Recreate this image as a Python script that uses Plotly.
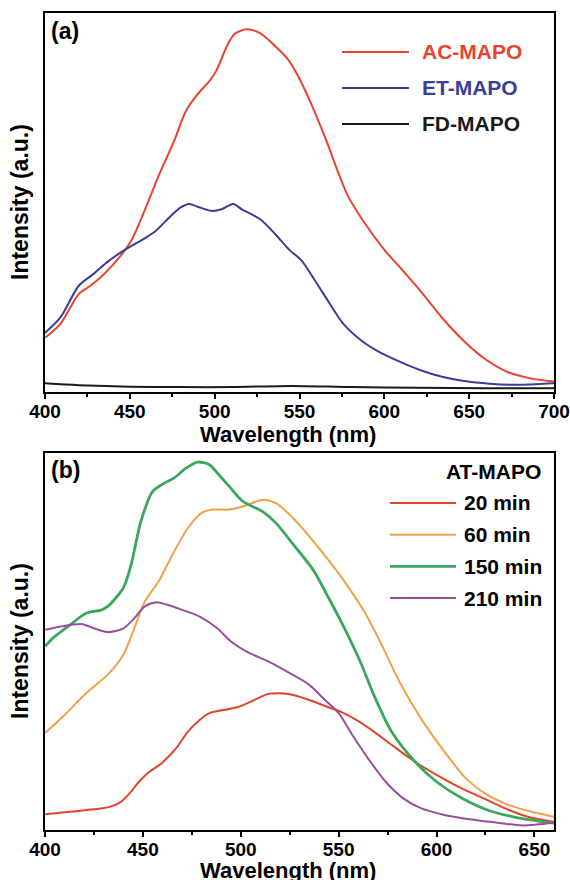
import plotly.graph_objects as go

W, H = 570, 880

# ---------------- Panel (a) data ----------------
wl_ac = [400, 409, 420, 427, 437, 450, 459, 467, 476, 483, 490, 497, 501, 508, 512, 519,
         527, 536, 543, 549, 557, 566, 572, 578, 587, 600, 609, 621, 634, 647, 660, 673, 686, 700]
ac_mapo = [14.3, 17.9, 25.9, 28.1, 32.1, 39.3, 48.2, 57.1, 66.1, 74.1, 78.6, 82.1, 84.8, 92.0, 94.6, 95.7,
           94.6, 91.1, 87.9, 83.5, 75.9, 66.1, 58.9, 52.2, 45.5, 37.5, 33.0, 26.8, 19.6, 13.4, 8.5, 5.2, 3.6, 2.8]

wl_et = [400, 409, 420, 429, 437, 447, 459, 465, 474, 480, 485, 490, 498, 504, 511, 516,
         527, 536, 544, 551, 559, 568, 576, 587, 598, 609, 621, 634, 647, 662, 677, 700]
et_mapo = [15.6, 19.6, 28.1, 31.3, 34.4, 37.5, 40.6, 42.4, 46.4, 48.7, 49.6, 48.9, 47.8, 48.2, 49.6, 48.2,
           45.5, 41.5, 37.5, 34.8, 29.5, 23.2, 17.9, 13.4, 10.3, 8.0, 5.8, 4.0, 2.9, 2.2, 1.9, 2.3]

wl_fd = [400, 420, 450, 480, 510, 545, 580, 620, 660, 700]
fd_mapo = [2.3, 1.8, 1.4, 1.3, 1.3, 1.6, 1.3, 1.1, 1.0, 1.0]

# ---------------- Panel (b) data ----------------
wl_20 = [400, 414, 425, 432, 438, 443, 448, 453, 460, 467, 473, 479, 484, 492, 499, 507, 514, 519,
         525, 535, 544, 551, 559, 568, 577, 589, 600, 611, 624, 637, 648, 660]
at_20 = [4.2, 4.9, 5.5, 6.0, 7.2, 9.6, 12.8, 15.3, 17.9, 21.7, 26.1, 29.2, 31.0, 31.9, 32.7, 34.5, 36.1, 36.3,
         36.0, 34.5, 32.7, 31.4, 29.2, 26.1, 22.6, 18.1, 14.6, 11.5, 8.4, 5.3, 3.3, 2.2]

wl_60 = [400, 410, 421, 432, 440, 445, 451, 458, 466, 473, 480, 486, 494, 501, 509, 512, 518,
         525, 535, 544, 553, 563, 572, 581, 592, 604, 615, 626, 637, 648, 660]
at_60 = [25.7, 30.5, 36.3, 41.2, 46.5, 52.7, 60.6, 65.9, 73.9, 80.1, 84.1, 85.0, 85.0, 85.8, 87.3, 87.6, 86.7,
         83.6, 77.9, 72.1, 65.9, 58.0, 49.1, 39.4, 29.6, 20.8, 13.7, 9.3, 6.6, 4.9, 3.5]

wl_150 = [400, 404, 414, 421, 429, 432, 440, 444, 449, 455, 461, 466, 472, 478, 484, 488, 494, 501,
          511, 518, 527, 537, 544, 553, 561, 568, 577, 589, 600, 613, 626, 641, 660]
at_150 = [48.7, 50.9, 54.9, 57.5, 58.4, 59.3, 64.2, 70.4, 81.9, 89.8, 92.0, 93.4, 96.0, 97.6, 96.9, 94.7, 91.2, 87.2,
          84.5, 81.4, 75.6, 69.0, 62.4, 53.5, 44.7, 35.8, 26.1, 18.1, 12.8, 8.4, 5.3, 3.3, 1.8]

wl_210 = [400, 408, 419, 425, 432, 440, 445, 451, 457, 462, 470, 479, 488, 495, 503, 514, 525,
          535, 542, 550, 557, 565, 574, 583, 592, 604, 619, 633, 644, 660]
at_210 = [53.1, 54.0, 54.6, 53.5, 52.5, 53.5, 55.8, 59.3, 60.4, 59.8, 58.4, 56.6, 53.5, 50.0, 47.3, 44.7, 41.6,
          38.5, 35.0, 31.0, 25.2, 19.0, 12.8, 8.4, 5.8, 4.0, 2.7, 1.8, 1.2, 1.9]

# ---------------- labels ----------------
legend_a = ["AC-MAPO", "ET-MAPO", "FD-MAPO"]
colors_a = ["#e8432f", "#3b3d98", "#1a1a1a"]
legend_b_title = "AT-MAPO"
legend_b = ["20 min", "60 min", "150 min", "210 min"]
colors_b = ["#e2432c", "#f2a048", "#3aa75c", "#9a4f9e"]
tickvals_a = [400, 450, 500, 550, 600, 650, 700]
tickvals_b = [400, 450, 500, 550, 600, 650]
x_title = "Wavelength (nm)"
y_title = "Intensity (a.u.)"

FONT = "Liberation Sans, Arial, sans-serif"

def px(x):
    return x / W

def py(y):
    return 1 - y / H

fig = go.Figure()

series_a = [(wl_ac, ac_mapo), (wl_et, et_mapo), (wl_fd, fd_mapo)]
for (xs, ys), name, c in zip(series_a, legend_a, colors_a):
    fig.add_trace(go.Scatter(x=xs, y=ys, name=name, mode="lines",
                             line=dict(color=c, width=2, shape="spline", smoothing=0.8),
                             xaxis="x", yaxis="y", showlegend=False))

series_b = [(wl_20, at_20), (wl_60, at_60), (wl_150, at_150), (wl_210, at_210)]
widths_b = [2, 2, 2.8, 2]
for (xs, ys), name, c, w in zip(series_b, legend_b, colors_b, widths_b):
    fig.add_trace(go.Scatter(x=xs, y=ys, name=name, mode="lines",
                             line=dict(color=c, width=w, shape="spline", smoothing=0.8),
                             xaxis="x2", yaxis="y2", showlegend=False))

xdom = [px(45), px(554)]
ya_dom = [py(392), py(13)]
yb_dom = [py(830), py(453)]

def xaxis(rng, tv, anchor, dom):
    return dict(domain=dom, range=rng, anchor=anchor, tickvals=tv, automargin=False,
                showline=True, linecolor="black", linewidth=2, mirror=True,
                ticks="outside", ticklen=5, tickwidth=1.5, tickcolor="black",
                ticklabelstandoff=-4,
                minor=dict(dtick=25, ticks="outside", ticklen=3, tickwidth=1.5, tickcolor="black", showgrid=False),
                showgrid=False, zeroline=False,
                tickfont=dict(family=FONT, size=19, color="black", weight="bold"))

def yaxis(anchor, dom):
    return dict(domain=dom, range=[0, 100], anchor=anchor, showticklabels=False, automargin=False,
                ticks="", showline=True, linecolor="black", linewidth=2, mirror=True,
                showgrid=False, zeroline=False)

fig.update_layout(
    width=W, height=H, margin=dict(l=0, r=0, t=0, b=0, autoexpand=False),
    paper_bgcolor="white", plot_bgcolor="white",
    xaxis=xaxis([400, 700], tickvals_a, "y", xdom),
    yaxis=yaxis("x", ya_dom),
    xaxis2=xaxis([400, 660], tickvals_b, "y2", xdom),
    yaxis2=yaxis("x2", yb_dom),
    showlegend=False,
)

ann = []
# axis titles
for ycen in (434, 870):
    ann.append(dict(text=x_title, x=px(288), y=py(ycen), xref="paper", yref="paper",
                    xanchor="center", yanchor="middle", showarrow=False,
                    font=dict(family=FONT, size=22, color="black", weight="bold")))
for ycen in (202, 641):
    ann.append(dict(text=y_title, x=px(20), y=py(ycen), xref="paper", yref="paper",
                    xanchor="center", yanchor="middle", showarrow=False, textangle=-90,
                    font=dict(family=FONT, size=23, color="black", weight="bold")))
# panel labels
ann.append(dict(text="(a)", x=px(49), y=py(31), xref="paper", yref="paper", xanchor="left",
                yanchor="middle", showarrow=False, font=dict(family=FONT, size=23, color="black", weight="bold")))
ann.append(dict(text="(b)", x=px(49), y=py(470), xref="paper", yref="paper", xanchor="left",
                yanchor="middle", showarrow=False, font=dict(family=FONT, size=23, color="black", weight="bold")))

shapes = []
# legend (a)
for i, (name, c) in enumerate(zip(legend_a, colors_a)):
    yy = 52 + i * 36
    shapes.append(dict(type="line", xref="paper", yref="paper", x0=px(342), x1=px(409),
                       y0=py(yy), y1=py(yy), line=dict(color=c, width=2)))
    ann.append(dict(text=name, x=px(420), y=py(yy), xref="paper", yref="paper", xanchor="left",
                    yanchor="middle", showarrow=False,
                    font=dict(family=FONT, size=21, color=c, weight="bold")))
# legend (b)
ann.append(dict(text=legend_b_title, x=px(543), y=py(471), xref="paper", yref="paper", xanchor="right",
                yanchor="middle", showarrow=False, font=dict(family=FONT, size=21, color="black", weight="bold")))
for i, (name, c, w) in enumerate(zip(legend_b, colors_b, widths_b)):
    yy = 503 + i * 31.7
    shapes.append(dict(type="line", xref="paper", yref="paper", x0=px(390), x1=px(456),
                       y0=py(yy), y1=py(yy), line=dict(color=c, width=w)))
    ann.append(dict(text=name, x=px(462), y=py(yy), xref="paper", yref="paper", xanchor="left",
                    yanchor="middle", showarrow=False,
                    font=dict(family=FONT, size=21, color="black", weight="bold")))

fig.update_layout(annotations=ann, shapes=shapes)
fig.write_html("out.html", config={"displayModeBar": False},
               post_script="document.body.style.margin='0px';document.body.style.overflow='hidden';")
